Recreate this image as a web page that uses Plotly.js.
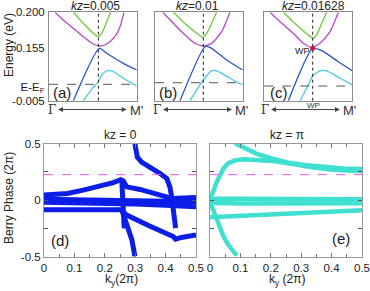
<!DOCTYPE html>
<html><head><meta charset="utf-8">
<script src="https://cdn.plot.ly/plotly-3.0.1.min.js"></script>
<style>html,body{margin:0;padding:0;background:#fff}#c{width:370px;height:291px}</style>
</head><body><div id="c"></div>
<script>
// ---------- top panels: band structure (x: fraction of Γ–M', y: energy in eV, schematic axis) ----------
const aGreenX=[0.277,0.391,0.505,0.562,0.601,0.658,0.703];
const aGreenE=[0.200,0.1745,0.1513,0.1434,0.1513,0.1782,0.200];
const aMagX=[0.068,0.163,0.277,0.391,0.505,0.582,0.658,0.752,0.81,0.855];
const aMagE=[0.200,0.1821,0.1629,0.1434,0.1265,0.1218,0.1265,0.1434,0.1666,0.200];
const aBlueX=[0.277,0.574,0.658,0.847,1.0];
const aBlueE=[-0.005,0.1165,0.1049,0.0817,0.0662];
const aCyanX=[0.39,0.505,0.562,0.601,0.658,0.715,0.847,1.0];
const aCyanE=[-0.005,0.026,0.039,0.0546,0.0639,0.0639,0.047,0.0291];

const bGreenX=[0.209,0.361,0.475,0.544,0.589,0.646,0.703];
const bGreenE=[0.200,0.1705,0.1513,0.142,0.1513,0.1745,0.200];
const bMagX=[0.087,0.209,0.323,0.456,0.551,0.646,0.76,0.855];
const bMagE=[0.200,0.1745,0.1513,0.1281,0.1218,0.1281,0.155,0.200];
const bBlueX=[0.285,0.57,0.627,0.817,1.0];
const bBlueE=[-0.005,0.1202,0.1188,0.0894,0.0662];
const bCyanX=[0.399,0.494,0.551,0.646,0.703,0.855,1.0];
const bCyanE=[-0.005,0.026,0.043,0.0646,0.0639,0.047,0.0314];

const cGreenX=[0.216,0.368,0.5,0.557,0.595,0.652,0.709];
const cGreenE=[0.200,0.1705,0.1474,0.1397,0.1474,0.1745,0.200];
const cMagX=[0.065,0.198,0.33,0.443,0.538,0.633,0.747,0.841];
const cMagE=[0.200,0.1745,0.1513,0.1281,0.1188,0.1281,0.155,0.200];
const cBlueX=[0.273,0.55,0.652,0.841,1.0];
const cBlueE=[-0.005,0.1165,0.111,0.0855,0.0646];
const cCyanX=[0.406,0.5,0.557,0.644,0.709,0.841,1.0];
const cCyanE=[-0.005,0.0314,0.0546,0.0646,0.0639,0.0493,0.0314];

const wpX=[0.55], wpE=[0.1165];
const kzTitles=['<i>kz</i>=0.005','<i>kz</i>=0.01','<i>kz</i>=0.01628'];
const panelTop=['(a)','(b)','(c)'];
const crossX=[0.563,0.551,0.55];      // dotted vertical line
const fermiE=[0.033,0.0367,0.029];    // dashed horizontal line
const eTickVals=[0.2,0.117,0.0275,-0.005];
const eTickText=['0.200','0.155','E-E<sub>F</sub>','-0.005'];

// ---------- bottom panels: Berry phase (2π) vs ky (2π) ----------
const dSteepX=[0.299,0.307,0.321,0.349,0.382,0.404,0.414,0.42,0.425,0.431,0.433];
const dSteepY=[0.497,0.38,0.336,0.292,0.234,0.19,0.117,0.029,-0.058,-0.175,-0.248];
const dPeakX=[0,0.077,0.129,0.184,0.228,0.252,0.261,0.272,0.316,0.371,0.42,0.5];
const dPeakY=[0.044,0.058,0.088,0.123,0.155,0.181,0.17,0.117,0.094,0.053,0.015,0.023];
const dDropX=[0.256,0.259,0.262,0.264];
const dDropY=[0.17,0.05,-0.1,-0.25];
const dZeroAX=[0,0.1,0.2,0.25,0.3,0.4,0.5];
const dZeroAY=[0.008,0.006,0.004,0.0,-0.005,-0.01,-0.015];
const dZeroBX=[0,0.1,0.2,0.25,0.3,0.4,0.5];
const dZeroBY=[-0.02,-0.022,-0.025,-0.03,-0.035,-0.045,-0.058];
const dLowX=[0,0.1,0.2,0.25,0.26];
const dLowY=[-0.085,-0.086,-0.084,-0.08,-0.085];
const dFallX=[0.255,0.272,0.289,0.299];
const dFallY=[-0.08,-0.234,-0.35,-0.497];
const dDiagX=[0.262,0.272,0.349,0.425,0.433,0.452,0.5];
const dDiagY=[-0.11,-0.132,-0.23,-0.322,-0.345,-0.33,-0.307];

const eTopX=[0.082,0.121,0.154,0.208,0.263,0.318,0.373,0.439,0.5];
const eTopY=[0.503,0.453,0.409,0.365,0.327,0.307,0.292,0.28,0.275];
const eRiseX=[0,0.011,0.022,0.033,0.044,0.06,0.082,0.11,0.154,0.208,0.263,0.329,0.406,0.5];
const eRiseY=[0,0.088,0.161,0.219,0.278,0.327,0.351,0.36,0.357,0.345,0.322,0.292,0.269,0.255];
const eFallX=[0,0.011,0.022,0.033,0.044,0.06,0.077,0.088];
const eFallY=[-0.015,-0.088,-0.175,-0.248,-0.32,-0.395,-0.453,-0.49];
const eZeroAX=[0,0.02,0.1,0.3,0.5];
const eZeroAY=[0,0.012,0.012,0.008,0.008];
const eZeroBX=[0,0.02,0.1,0.3,0.5];
const eZeroBY=[0,-0.025,-0.03,-0.03,-0.028];
const eLineX=[0,0.1,0.2,0.3,0.4,0.5];
const eLineY=[-0.152,-0.138,-0.125,-0.112,-0.1,-0.09];
const refPhase=0.225;
const kyTicks=[0,0.1,0.2,0.3,0.4,0.5];
const kyTickText=['0','0.1','0.2','0.3','0.4','0.5'];
const phTicks=[-0.5,0,0.5];
const phTickText=['-0.5','0','0.5'];

// ---------- build ----------
(function(){
const FONT='Liberation Sans, Arial, sans-serif';
const W=370,H=291;
const PX=v=>v/W, PY=v=>1-v/H;
const cGreen='#6cc83a', cMag='#b548c4', cBlue='#2a55c2', cCyan='#48c8e0';
const traces=[];
const bands=[[aGreenX,aGreenE,aMagX,aMagE,aBlueX,aBlueE,aCyanX,aCyanE],
           [bGreenX,bGreenE,bMagX,bMagE,bBlueX,bBlueE,bCyanX,bCyanE],
           [cGreenX,cGreenE,cMagX,cMagE,cBlueX,cBlueE,cCyanX,cCyanE]];
const cols=[cGreen,cMag,cBlue,cCyan];
bands.forEach((p,i)=>{
  const xa=i===0?'x':'x'+(i+1), ya=i===0?'y':'y'+(i+1);
  for(let k=0;k<4;k++){
    traces.push({x:p[2*k],y:p[2*k+1],xaxis:xa,yaxis:ya,mode:'lines',
      line:{color:cols[k],width:1.3,shape:'spline',smoothing:0.6},hoverinfo:'skip'});
  }
});
traces.push({x:wpX,y:wpE,xaxis:'x3',yaxis:'y3',mode:'markers',marker:{color:'#d0203c',size:5},hoverinfo:'skip'});

const dBlue='#0a1ee8', eCyan='#40e0d0';
[[dSteepX,dSteepY],[dPeakX,dPeakY],[dDropX,dDropY],[dZeroAX,dZeroAY],[dZeroBX,dZeroBY],
 [dLowX,dLowY],[dFallX,dFallY],[dDiagX,dDiagY]].forEach(s=>{
  traces.push({x:s[0],y:s[1],xaxis:'x4',yaxis:'y4',mode:'lines',line:{color:dBlue,width:5},hoverinfo:'skip'});
});
[[eTopX,eTopY],[eRiseX,eRiseY],[eFallX,eFallY],[eZeroAX,eZeroAY],[eZeroBX,eZeroBY],[eLineX,eLineY]].forEach(s=>{
  traces.push({x:s[0],y:s[1],xaxis:'x5',yaxis:'y5',mode:'lines',line:{color:eCyan,width:4.5},hoverinfo:'skip'});
});

const topX=[[49,136.7],[155,242.7],[264.3,352.3]];
const topY=[PY(100.7),PY(12.3)];
const layout={width:W,height:H,margin:{l:0,r:0,t:0,b:0},showlegend:false,
  paper_bgcolor:'#fff',plot_bgcolor:'#fff',font:{family:FONT,size:11,color:'#222'},
  shapes:[],annotations:[]};
topX.forEach((d,i)=>{
  const s=i===0?'':(i+1);
  layout['xaxis'+s]={domain:[PX(d[0]),PX(d[1])],range:[0,1],anchor:'y'+s,showticklabels:false,ticks:'',
    tickmode:'array',tickvals:[],
    showline:true,mirror:true,linecolor:'#8a8a8a',linewidth:1,showgrid:false,zeroline:false};
  layout['yaxis'+s]={domain:topY,range:[-0.005,0.2],anchor:'x'+s,showline:true,mirror:true,linecolor:'#8a8a8a',
    linewidth:1,showgrid:false,zeroline:false,ticks:'',tickmode:'array',
    showticklabels:i===0,tickvals:i===0?eTickVals:[],ticktext:i===0?eTickText:[],
    tickfont:{size:11.5,color:'#222'},ticklabelstandoff:1};
  layout.shapes.push({type:'line',xref:'x'+s,yref:'y'+s+' domain',x0:crossX[i],x1:crossX[i],y0:0,y1:1,
    line:{color:'#222',width:1,dash:'dot'}});
  layout.shapes.push({type:'line',xref:'x'+s+' domain',yref:'y'+s,x0:0,x1:1,y0:fermiE[i],y1:fermiE[i],
    line:{color:'#555',width:1,dash:'dash'}});
});
const botY=[PY(256.7),PY(143.5)];
[['4',[44,196],true],['5',[210,362],false]].forEach(([s,d,lab])=>{
  layout['xaxis'+s]={domain:[PX(d[0]),PX(d[1])],range:[0,0.5],anchor:'y'+s,tickmode:'array',tickvals:kyTicks,ticktext:kyTickText,
    ticks:'inside',ticklen:4,tickcolor:'#777',minor:{dtick:0.05,ticks:'inside',ticklen:3,tickcolor:'#777'},
    showline:true,mirror:'ticks',linecolor:'#999',showgrid:false,zeroline:false,tickfont:{size:11.5,color:'#222'}};
  layout['yaxis'+s]={domain:botY,range:[-0.5,0.5],anchor:'x'+s,tickmode:'array',tickvals:phTicks,ticktext:phTickText,
    showticklabels:lab,ticks:'inside',ticklen:4,tickcolor:'#555',minor:{dtick:0.25,ticks:'inside',ticklen:4,tickcolor:'#555'},
    showline:true,mirror:'ticks',linecolor:'#999',showgrid:false,zeroline:false,tickfont:{size:11.5,color:'#222'}};
  layout.shapes.push({type:'line',xref:'x'+s+' domain',yref:'y'+s,x0:0,x1:1,y0:refPhase,y1:refPhase,
    line:{color:'#e060e8',width:1,dash:'dash'}});
});
const A=(t,x,y,o)=>layout.annotations.push(Object.assign({text:t,xref:'paper',yref:'paper',x:PX(x),y:PY(y),
  showarrow:false,xanchor:'center',yanchor:'middle',font:{size:12,color:'#222'}},o||{}));
const titleX=[95,197,313];
const labX=[62,168,279];
const gX=[51.5,156.5,264.5], mX=[136,241,349], headX=[126.7,232,340];
kzTitles.forEach((t,i)=>{
  A(t,titleX[i],6);
  A(panelTop[i],labX[i],92,{font:{size:15,color:'#222'}});
  // Γ label doubles as the tail of the double-headed Γ→M' arrow
  layout.annotations.push({text:'Γ',xref:'paper',yref:'paper',x:PX(headX[i]),y:PY(109.5),axref:'pixel',ayref:'pixel',
    ax:-(headX[i]-gX[i]),ay:0,showarrow:true,arrowside:'end+start',arrowhead:2,startarrowhead:2,arrowsize:1,
    startarrowsize:1,arrowwidth:1,arrowcolor:'#444',standoff:0,startstandoff:1,
    font:{size:12,color:'#333',family:'DejaVu Serif, serif'}});
  A("M'",mX[i],110.5,{font:{size:13,color:'#333'}});
});
A('WP',313,105,{font:{size:8,color:'#333'}});
A('WP',302,51,{font:{size:9,color:'#222'}});
A('Energy (eV)',9,45,{textangle:-90,font:{size:12,color:'#222'}});
A('Berry Phase (2π)',9,198,{textangle:-90,font:{size:12,color:'#222'}});
A('kz = 0',120,135);
A('kz = π',287,135);
A('(d)',60,240,{font:{size:15,color:'#222'}});
A('(e)',341,238,{font:{size:15,color:'#222'}});
A('k<sub>y</sub>(2π)',121,280);
A('k<sub>y</sub> (2π)',287,280);

Plotly.newPlot('c',traces,layout,{staticPlot:true,displayModeBar:false});
})();
</script></body></html>
